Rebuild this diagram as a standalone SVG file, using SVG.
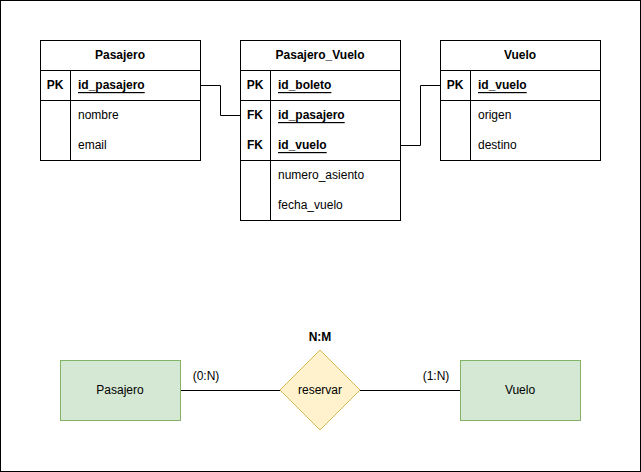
<svg xmlns="http://www.w3.org/2000/svg" width="641" height="472" viewBox="0 0 641 472">
<style>
text{font-family:"Liberation Sans",Arial,sans-serif;font-size:12px;fill:#000;dominant-baseline:central}
.b{font-weight:bold}
.c{text-anchor:middle}
.u{text-decoration:underline}
.tbl{fill:#fff;stroke:#000;stroke-width:1}
.ln{stroke:#000;stroke-width:1;fill:none}
.ent{fill:#d5e8d4;stroke:#82b366;stroke-width:1}
.rel{fill:#fff2cc;stroke:#d6b656;stroke-width:1}
</style>
<rect x="0.5" y="0.5" width="640" height="471" fill="#fff" stroke="#000"/>
<g id="connectors">
<path class="ln" d="M200.5 85.5H220.5V115.5H240.5"/>
<path class="ln" d="M400.5 145.5H420.5V85.5H440.5"/>
<path class="ln" d="M180 390.5H280"/>
<path class="ln" d="M360 390.5H460"/>
</g>
<g id="t_pasajero">
<rect class="tbl" x="40.5" y="40.5" width="160" height="120"/>
<path class="ln" d="M40.5 70.5H200.5M40.5 100.5H200.5M70.5 70.5V160.5"/>
<text class="b c" x="120" y="55">Pasajero</text>
<text class="b c" x="55" y="85">PK</text>
<text class="b u" x="78" y="85">id_pasajero</text>
<text x="78" y="115">nombre</text>
<text x="78" y="145">email</text>
</g>
<g id="t_pasajero_vuelo">
<rect class="tbl" x="240.5" y="40.5" width="160" height="180"/>
<path class="ln" d="M240.5 70.5H400.5M240.5 100.5H400.5M240.5 160.5H400.5M270.5 70.5V220.5"/>
<text class="b c" x="320" y="55">Pasajero_Vuelo</text>
<text class="b c" x="255" y="85">PK</text>
<text class="b u" x="278" y="85">id_boleto</text>
<text class="b c" x="255" y="115">FK</text>
<text class="b u" x="278" y="115">id_pasajero</text>
<text class="b c" x="255" y="145">FK</text>
<text class="b u" x="278" y="145">id_vuelo</text>
<text x="278" y="175">numero_asiento</text>
<text x="278" y="205">fecha_vuelo</text>
</g>
<g id="t_vuelo">
<rect class="tbl" x="440.5" y="40.5" width="160" height="120"/>
<path class="ln" d="M440.5 70.5H600.5M440.5 100.5H600.5M470.5 70.5V160.5"/>
<text class="b c" x="520" y="55">Vuelo</text>
<text class="b c" x="455" y="85">PK</text>
<text class="b u" x="478" y="85">id_vuelo</text>
<text x="478" y="115">origen</text>
<text x="478" y="145">destino</text>
</g>
<g id="e_pasajero">
<rect class="ent" x="60.5" y="360.5" width="120" height="60"/>
<text class="c" x="120" y="390">Pasajero</text>
</g>
<g id="r_reservar">
<polygon class="rel" points="320,350 360,390 320,430 280,390"/>
<text class="c" x="320" y="390">reservar</text>
<text class="b c" x="320" y="337">N:M</text>
</g>
<g id="e_vuelo">
<rect class="ent" x="460.5" y="360.5" width="120" height="60"/>
<text class="c" x="520" y="390">Vuelo</text>
</g>
<g id="labels">
<text class="c" x="206" y="376">(0:N)</text>
<text class="c" x="436" y="376">(1:N)</text>
</g>
</svg>
